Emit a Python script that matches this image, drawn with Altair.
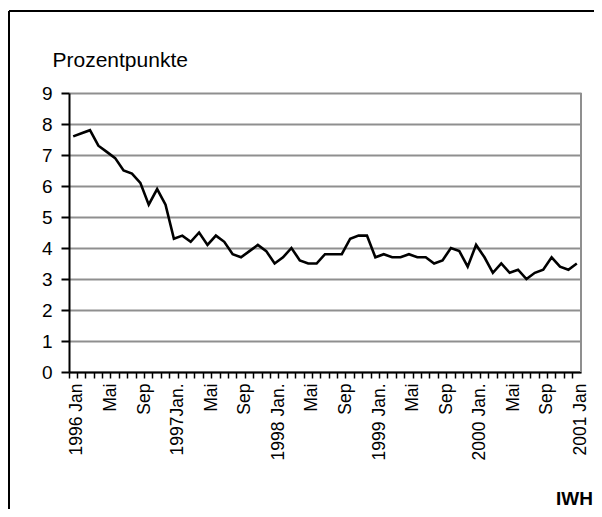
import json
import altair as alt
import pandas as pd

# Monthly values Jan 1996 .. Jan 2001 (61 months)
values = [
    7.6, 7.7, 7.8, 7.3, 7.1, 6.9, 6.5, 6.4, 6.1, 5.4, 5.9, 5.4,   # 1996
    4.3, 4.4, 4.2, 4.5, 4.1, 4.4, 4.2, 3.8, 3.7, 3.9, 4.1, 3.9,   # 1997
    3.5, 3.7, 4.0, 3.6, 3.5, 3.5, 3.8, 3.8, 3.8, 4.3, 4.4, 4.4,   # 1998
    3.7, 3.8, 3.7, 3.7, 3.8, 3.7, 3.7, 3.5, 3.6, 4.0, 3.9, 3.4,   # 1999
    4.1, 3.7, 3.2, 3.5, 3.2, 3.3, 3.0, 3.2, 3.3, 3.7, 3.4, 3.3,   # 2000
    3.5,                                                          # 2001
]
month_index = list(range(len(values)))

tick_labels = [""] * len(values)
tick_labels[0] = "1996 Jan"
tick_labels[4] = "Mai"
tick_labels[8] = "Sep"
tick_labels[12] = "1997Jan."
tick_labels[16] = "Mai"
tick_labels[20] = "Sep"
tick_labels[24] = "1998 Jan."
tick_labels[28] = "Mai"
tick_labels[32] = "Sep"
tick_labels[36] = "1999 Jan."
tick_labels[40] = "Mai"
tick_labels[44] = "Sep"
tick_labels[48] = "2000 Jan."
tick_labels[52] = "Mai"
tick_labels[56] = "Sep"
tick_labels[60] = "2001 Jan"

y_ticks = list(range(10))

FONT = "Liberation Sans"
W, H = 512, 279

df = pd.DataFrame({"i": month_index, "v": values})

x_enc = alt.X(
    "i:O",
    scale=alt.Scale(type="band", paddingInner=0, paddingOuter=0),
    axis=alt.Axis(
        title=None,
        labelExpr=json.dumps(tick_labels) + "[datum.value]",
        bandPosition=0,
        labelOffset=W / len(values) / 2,
        labelAngle=270,
        labelAlign="right",
        labelBaseline="middle",
        labelOverlap=False,
        labelFont=FONT,
        labelFontSize=17.5,
        labelColor="black",
        labelPadding=5,
        ticks=True,
        tickSize=6,
        tickColor="black",
        tickWidth=1.5,
        domainColor="black",
        domainWidth=2,
        grid=False,
    ),
)

y_scale = alt.Scale(domain=[0, 9], nice=False, zero=True)
y_axis = alt.Axis(
    values=y_ticks,
    labelOverlap=False,
    grid=True,
    gridColor="#8f8f8f",
    gridWidth=2,
    ticks=True,
    tickSize=8,
    tickWidth=2,
    tickColor="black",
    domainColor="black",
    domainWidth=2,
    labelFont=FONT,
    labelFontSize=19,
    labelColor="black",
    labelPadding=9,
    title="Prozentpunkte",
    titleFont=FONT,
    titleFontSize=21,
    titleFontWeight="normal",
    titleColor="black",
    titleAngle=0,
    titleAlign="left",
    titleBaseline="alphabetic",
    titleX=-17,
    titleY=-27,
)

line = alt.Chart(df).mark_line(color="black", strokeWidth=2.6).encode(
    x=x_enc, y=alt.Y("v:Q", scale=y_scale, axis=y_axis)
)

border_df = pd.DataFrame({"v": [0], "v2": [9]})
right_border = alt.Chart(border_df).mark_rule(color="#8f8f8f", strokeWidth=2).encode(
    x=alt.value(W), y=alt.Y("v:Q", scale=y_scale, axis=y_axis), y2="v2:Q"
)

frame_top = alt.Chart(border_df).mark_rule(color="black", strokeWidth=2).encode(
    x=alt.value(-60), x2=alt.value(530), y=alt.value(-82)
)
frame_left = alt.Chart(border_df).mark_rule(color="black", strokeWidth=2).encode(
    x=alt.value(-60), y=alt.value(-82), y2=alt.value(420)
)

iwh = alt.Chart(pd.DataFrame({"t": ["IWH"]})).mark_text(
    font=FONT, fontSize=19, fontWeight="bold", color="black", align="right", baseline="alphabetic"
).encode(text="t:N", x=alt.value(524), y=alt.value(412))

chart = (
    alt.layer(line, right_border, frame_top, frame_left, iwh)
    .properties(
        width=W,
        height=H,
        autosize=alt.AutoSizeParams(type="none"),
        padding={"left": 61, "top": 85, "right": 13, "bottom": 137},
        background="white",
    )
    .configure_view(stroke=None)
)

chart.save("out.html", embed_options={"renderer": "svg", "actions": False})
